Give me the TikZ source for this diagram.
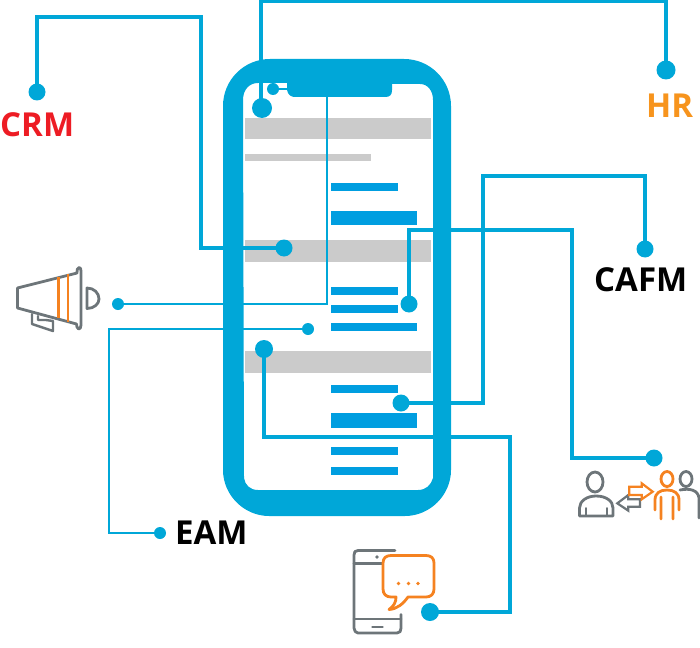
\documentclass[tikz,border=0pt]{standalone}
\usepackage{fontspec}
\setmainfont{Open Sans}
\definecolor{cyanl}{HTML}{00A7D8}
\definecolor{barb}{HTML}{009EE0}
\definecolor{grayb}{HTML}{CBCBCB}
\definecolor{orng}{HTML}{F58220}
\definecolor{icong}{HTML}{6D7579}
\definecolor{crmred}{HTML}{ED1C24}
\definecolor{hrorng}{HTML}{F7941D}
\tikzset{
  dotn/.style={circle,fill=cyanl,draw=none,inner sep=0pt,minimum size=#1},
  link/.style={draw=cyanl,line width=3.2pt},
  thinlink/.style={draw=cyanl,line width=2.8pt},
  lab/.style={anchor=base west,inner sep=0pt,font=\fontsize{33}{33}\selectfont\bfseries},
  grayic/.style={draw=icong,line width=2.8pt,line join=round,line cap=round},
  orgic/.style={draw=orng,line width=2.8pt,line join=round,line cap=round},
  grayw/.style={draw=icong,fill=white,line width=2.2pt,line join=miter},
  orgw/.style={draw=orng,fill=white,line width=2.2pt,line join=miter},
}
\begin{document}
\begin{tikzpicture}[x=1pt,y=-1pt]
\useasboundingbox (0,0) rectangle (700,647);
% phone
\fill[cyanl,even odd rule]
  (270,59) -- (404,59) .. controls (430,59) and (451,80) .. (451,106) -- (451,470)
  .. controls (451,495) and (430,516) .. (405,516) -- (269,516)
  .. controls (244,516) and (223,495) .. (223,470) -- (223,106)
  .. controls (223,80) and (244,59) .. (270,59) -- cycle
  (258,83) -- (287,83) -- (287,90) .. controls (288,95) and (291,97) .. (295,97)
  -- (385,97) .. controls (390,97) and (392,95) .. (392,90) -- (392,84) -- (420,84)
  .. controls (428,84) and (433,91) .. (433,100) -- (433,478)
  .. controls (431,485) and (426,490) .. (418,490) -- (258,490)
  .. controls (250,490) and (245,485) .. (244,478) -- (243,100)
  .. controls (243,90) and (249,83) .. (258,83) -- cycle;
% screen bars
\foreach \a/\b/\c/\d in {245/118/431/139,245/154/371/161,245/240/431/262,245/351/431/373}
  \fill[grayb] (\a,\b) rectangle (\c,\d);
\foreach \a/\b/\c/\d in {331/183/398/191,331/211/417/225,331/287/398/295,331/305/398/313,331/323/417/331,331/385/398/393,331/413/417/428,331/447/398/455,331/467/398/475}
  \fill[barb] (\a,\b) rectangle (\c,\d);
% dots
\node[dotn=19pt] (hrd) at (666,70) {};
\node[dotn=20pt] (hrp) at (262,108) {};
\node[dotn=17pt] (crmd) at (37,92) {};
\node[dotn=17pt] (crmp) at (284,248) {};
\node[dotn=17pt] (cafmd) at (645,249) {};
\node[dotn=17pt] (cafmp) at (401,403) {};
\node[dotn=17pt] (pepd) at (654,458) {};
\node[dotn=17pt] (pepp) at (409,304) {};
\node[dotn=12pt] (megd) at (118,304) {};
\node[dotn=12pt] (notd) at (273,89) {};
\node[dotn=12pt] (eamd) at (160,533) {};
\node[dotn=12pt] (eamp) at (308,329) {};
\node[dotn=18pt] (chad) at (430,612) {};
\node[dotn=18pt] (chap) at (264,349) {};
% elbows
\coordinate (hr1) at (666,1.5);
\coordinate (hr2) at (261,1.5);
\coordinate (crm1) at (37,17);
\coordinate (crm2) at (201,17);
\coordinate (crm3) at (201,248);
\coordinate (caf1) at (645,176);
\coordinate (caf2) at (483,176);
\coordinate (caf3) at (483,403);
\coordinate (pep1) at (572,458);
\coordinate (pep2) at (572,230);
\coordinate (pep3) at (409,230);
\coordinate (meg1) at (327,304);
\coordinate (meg2) at (327,96);
\coordinate (not1) at (290,89);
\coordinate (eam1) at (109,533);
\coordinate (eam2) at (109,329);
\coordinate (cha1) at (510,612);
\coordinate (cha2) at (510,437);
\coordinate (cha3) at (264,437);
% connectors
\draw[link] (hrd.center) -- (hr1) -- (hr2) -- (hrp.center -| hr2);
\draw[link] (crmd.center) -- (crm1) -- (crm2) -- (crm3) -- (crmp.center);
\draw[link] (cafmd.center) -- (caf1) -- (caf2) -- (caf3) -- (cafmp.center);
\draw[link] (pepd.center) -- (pep1) -- (pep2) -- (pep3) -- (pepp.center);
\draw[thinlink] (megd.center) -- (meg1) -- (meg2);
\draw[thinlink] (notd.center) -- (not1);
\draw[thinlink] (eamd.center) -- (eam1) -- (eam2) -- (eamp.center);
\draw[link] (chad.center) -- (cha1) -- (cha2) -- (cha3) -- (chap.center);
% labels
\node[lab,text=crmred] (crm) at (0,136) {CRM};
\node[lab,text=hrorng] (hr) at (646,118) {HR};
\node[lab,text=black] (cafm) at (594,291) {CAFM};
\node[lab,text=black] (eam) at (175,544) {EAM};
% megaphone
\draw[grayic] (17.5,288) -- (77,273) .. controls (77,270) and (77,268) .. (79,267.5) .. controls (80.5,267.5) and (81,269) .. (81,271) -- (81,325) .. controls (81,328) and (80,329) .. (78.5,329) .. controls (77,328) and (76.5,326) .. (76.5,324) -- (17.5,308) -- cycle;
\draw[orgic,line cap=butt] (58.5,277) -- (58.5,318);
\draw[orgic,line cap=butt] (68,274) -- (68,322);
\draw[grayic] (87,288) .. controls (94,288) and (99,293) .. (99,299) .. controls (99,304) and (94,308.5) .. (87,308.5) -- cycle;
\draw[grayic,line width=2.4pt] (32,314) -- (32,324) -- (53,331) -- (53,321) -- (46,320) -- (38,320) -- (38,316);
% people
\draw[grayic] (595,482) ellipse[x radius=8,y radius=10];
\draw[grayic] (579.5,516) -- (579.5,508) .. controls (579.5,501) and (587,496) .. (596,496) .. controls (606,496) and (613,501) .. (613,508) -- (613,516) -- cycle;
\draw[grayic,line width=1.6pt] (586,516) -- (586,508) (607,516) -- (607,508);
\draw[grayic] (686,479) ellipse[x radius=6,y radius=7.5];
\draw[grayic] (680,490) .. controls (690,488) and (698,490) .. (699,498) -- (699,518);
\draw[orgic] (667,479) ellipse[x radius=6,y radius=7.5];
\draw[orgic] (661,519) -- (661,497) (655,510) -- (655,500) .. controls (655,493) and (660,490) .. (667,490) .. controls (674,490) and (679,493) .. (679,500) -- (679,510) (673,519) -- (673,497);
\draw[grayw] (640,499.3) -- (628.3,499.3) -- (628.3,495) -- (617.3,503.3) -- (628.3,510.7) -- (628.3,506.7) -- (640,506.7) -- cycle;
\draw[orgw] (629.3,486.7) -- (641.7,486.7) -- (641.7,483.3) -- (652.7,491.7) -- (641.7,499.3) -- (641.7,495) -- (629.3,495) -- cycle;
% mobile
\draw[grayic] (395,550.5) -- (358,550.5) .. controls (355,550.5) and (354,552) .. (354,555) -- (354,628) .. controls (354,631) and (356,633) .. (358,633) -- (397,633) .. controls (400,633) and (401,631) .. (401,628) -- (401,614.5);
\draw[grayic] (354,563.5) -- (382,563.5);
\draw[grayic] (354,619) -- (401,619);
\draw[grayic] (372.5,627) -- (382.5,627);
\fill[icong] (377,557) circle[radius=1.8];
\draw[orgic,fill=white] (391,555.5) -- (426,555.5) .. controls (431,555.5) and (434,558) .. (434,563) -- (434,589) .. controls (434,594) and (431,597) .. (426,597) -- (408,597) .. controls (403,604) and (397,609) .. (389,609.5) .. controls (394,606) and (396,602) .. (396,597) -- (391,597) .. controls (386,597) and (383,594) .. (383,589) -- (383,563) .. controls (383,558) and (386,555.5) .. (391,555.5) -- cycle;
\foreach \x in {398.5,408.5,418}
  \fill[orng] (\x,583.5) circle[radius=1.8];
\end{tikzpicture}
\end{document}
